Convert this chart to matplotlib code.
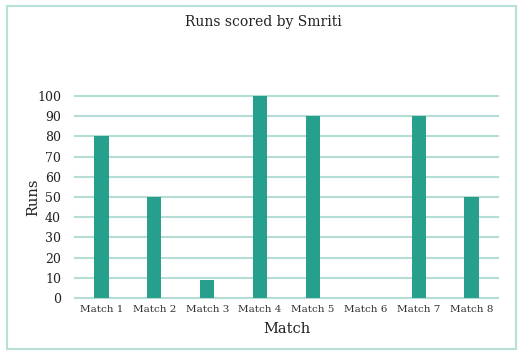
import matplotlib.pyplot as plt
from matplotlib.patches import Rectangle

matches = ['Match 1', 'Match 2', 'Match 3', 'Match 4', 'Match 5', 'Match 6', 'Match 7', 'Match 8']
runs = [80, 50, 9, 100, 90, 0, 90, 50]
yticks = [0, 10, 20, 30, 40, 50, 60, 70, 80, 90, 100]

plt.rcParams['font.family'] = ['DejaVu Serif']

fig = plt.figure(figsize=(5.29, 3.56), dpi=100)
# outer chart border
fig.patches.append(Rectangle((7 / 529, 1 - 349 / 356), 509 / 529, 343 / 356,
                             transform=fig.transFigure, fill=False,
                             edgecolor='#b9e0d8', linewidth=1.5))

ax = fig.add_axes([75 / 529, 1 - 298 / 356, 423 / 529, 202 / 356])
ax.bar(range(len(matches)), runs, width=0.27, color='#26a08c', zorder=3)

ax.set_xlim(-0.5, len(matches) - 0.5)
ax.set_ylim(0, 100)
ax.set_yticks(yticks)
ax.set_xticks(range(len(matches)))
ax.set_xticklabels(matches, fontsize=7.5, color='#333333')
ax.tick_params(axis='y', labelsize=9, colors='#222222', length=0, pad=10)
ax.tick_params(axis='x', length=0, pad=5)
ax.grid(axis='y', color='#b5ddd5', linewidth=1.5, zorder=0)
for line in ax.get_ygridlines():
    line.set_clip_on(False)
for s in ax.spines.values():
    s.set_visible(False)

ax.set_ylabel('Runs', fontsize=10.5, color='#222222')
ax.yaxis.set_label_coords(-0.082, 0.5)
ax.set_xlabel('Match', fontsize=10.5, color='#222222', labelpad=6)
fig.text(263 / 529, 1 - 22 / 356, 'Runs scored by Smriti', ha='center', va='center',
         fontsize=10, color='#222222')

plt.savefig('out.png', dpi=100)
